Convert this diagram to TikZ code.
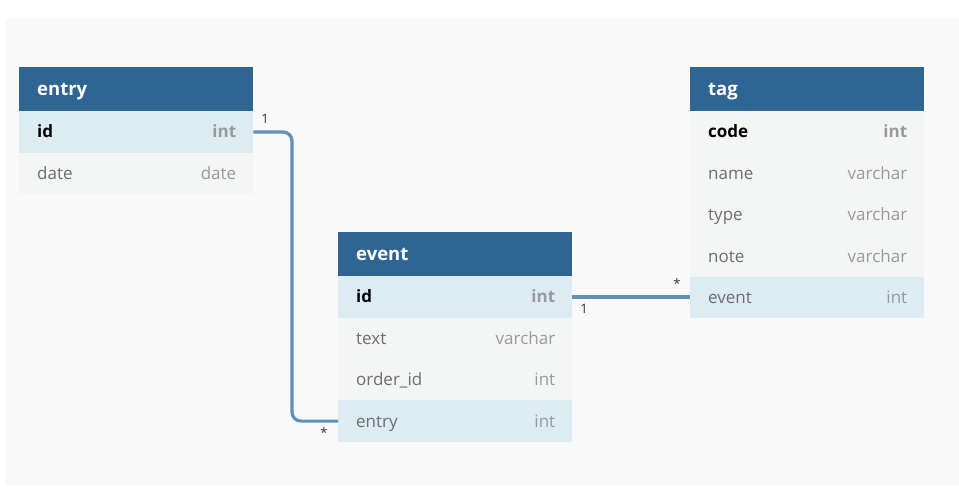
\documentclass[tikz,border=0pt]{standalone}
\usepackage{fontspec}
\setmainfont{Open Sans}
\definecolor{hdrblue}{HTML}{2F6592}
\definecolor{keyrow}{HTML}{DDEBF3}
\definecolor{plainrow}{HTML}{F4F5F5}
\definecolor{bgpanel}{HTML}{F9F9F9}
\definecolor{fieldgray}{HTML}{6E6E6E}
\definecolor{typegray}{HTML}{9A9A9A}
\definecolor{connblue}{HTML}{5D90BF}
\definecolor{cardgray}{HTML}{333333}
\tikzset{
  hdr/.style={fill=hdrblue, draw=none, minimum width=234pt, minimum height=44pt, anchor=north west, inner sep=0pt},
  hdrtxt/.style={text=white, font=\fontsize{18.5}{20}\selectfont\bfseries, anchor=west, inner sep=0pt, text height=13pt, text depth=4pt, yshift=-2pt},
  row/.style={draw=none, minimum width=234pt, minimum height=41.4pt, anchor=north west, inner sep=0pt},
  fieldtxt/.style={text=fieldgray, font=\fontsize{17}{19}\selectfont, anchor=west, inner sep=0pt, text height=12pt, text depth=4pt, yshift=-2pt},
  keytxt/.style={fieldtxt, text=black, font=\fontsize{17}{19}\selectfont\bfseries},
  typetxt/.style={text=typegray, font=\fontsize{17}{19}\selectfont, anchor=east, inner sep=0pt, text height=12pt, text depth=4pt, yshift=-2pt},
  keytype/.style={typetxt, font=\fontsize{17}{19}\selectfont\bfseries},
  conn/.style={draw=connblue, line width=3.2pt, rounded corners=9pt},
  card/.style={text=cardgray, font=\fontsize{13}{15}\selectfont, inner sep=0pt}
}
\newcommand\tblhead[4]{% name, x, y, title
  \node[hdr] (#1) at (#2,#3) {};
  \node[hdrtxt] at ([xshift=18pt]#1.west) {#4};}
\newcommand\typelabel[3]{% row name, style, text
  \node[#2] at ([xshift=-17pt]#1.east) {#3};}
\begin{document}
\begin{tikzpicture}[x=1pt, y=-1pt]
  \useasboundingbox (0,0) rectangle (959,496);
  \fill[white] (0,0) rectangle (959,496);
  \fill[bgpanel] (5,19) rectangle (959,486);

  % entry table
  \tblhead{entry}{19}{67}{entry}
  \node[row, fill=keyrow] (entry-id) at (19,111) {};
  \node[keytxt] at ([xshift=18pt]entry-id.west) {id};
  \typelabel{entry-id}{keytype}{int}
  \node[row, fill=plainrow] (entry-date) at (19,152.4) {};
  \node[fieldtxt] at ([xshift=18pt]entry-date.west) {date};
  \typelabel{entry-date}{typetxt}{date}

  % event table
  \tblhead{event}{338}{232}{event}
  \node[row, fill=keyrow] (event-id) at (338,276) {};
  \node[keytxt] at ([xshift=18pt]event-id.west) {id};
  \typelabel{event-id}{keytype}{int}
  \node[row, fill=plainrow] (event-text) at (338,317.4) {};
  \node[fieldtxt] at ([xshift=18pt]event-text.west) {text};
  \typelabel{event-text}{typetxt}{varchar}
  \node[row, fill=plainrow] (event-order) at (338,358.8) {};
  \node[fieldtxt] at ([xshift=18pt]event-order.west) {order\_id};
  \typelabel{event-order}{typetxt}{int}
  \node[row, fill=keyrow] (event-entry) at (338,400.2) {};
  \node[fieldtxt] at ([xshift=18pt]event-entry.west) {entry};
  \typelabel{event-entry}{typetxt}{int}

  % tag table
  \tblhead{tag}{690}{67}{tag}
  \node[row, fill=plainrow] (tag-code) at (690,111) {};
  \node[keytxt] at ([xshift=18pt]tag-code.west) {code};
  \typelabel{tag-code}{keytype}{int}
  \node[row, fill=plainrow] (tag-name) at (690,152.4) {};
  \node[fieldtxt] at ([xshift=18pt]tag-name.west) {name};
  \typelabel{tag-name}{typetxt}{varchar}
  \node[row, fill=plainrow] (tag-type) at (690,193.8) {};
  \node[fieldtxt] at ([xshift=18pt]tag-type.west) {type};
  \typelabel{tag-type}{typetxt}{varchar}
  \node[row, fill=plainrow] (tag-note) at (690,235.2) {};
  \node[fieldtxt] at ([xshift=18pt]tag-note.west) {note};
  \typelabel{tag-note}{typetxt}{varchar}
  \node[row, fill=keyrow] (tag-event) at (690,276.6) {};
  \node[fieldtxt] at ([xshift=18pt]tag-event.west) {event};
  \typelabel{tag-event}{typetxt}{int}

  % connectors
  \coordinate (bend1) at (292,132);
  \draw[conn] (entry-id.east) -- (bend1) |- (event-entry.west);
  \draw[conn] (event-id.east) -- (event-id.east -| tag-event.west);

  % cardinalities
  \node[card] (c1) at (265,119) {1};
  \node[card] (c2) at (324,433) {*};
  \node[card] (c3) at (584,309) {1};
  \node[card] (c4) at (677,284) {*};
\end{tikzpicture}
\end{document}
